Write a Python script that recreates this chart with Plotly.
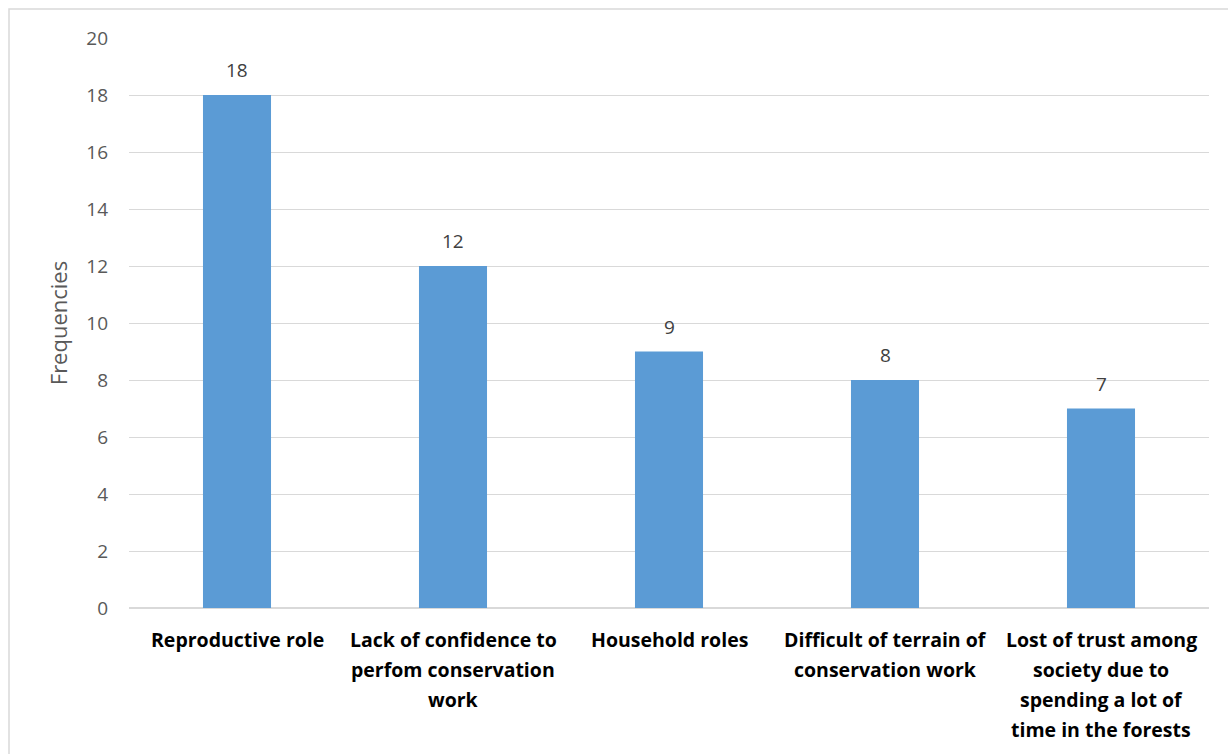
import plotly.graph_objects as go

categories = ["Reproductive role", "Lack of confidence to perfom conservation work",
              "Household roles", "Difficult of terrain of conservation work",
              "Lost of trust among society due to spending a lot of time in the forests"]
label_lines = [
    ["Reproductive role"],
    ["Lack of confidence to", "perfom conservation", "work"],
    ["Household roles"],
    ["Difficult of terrain of", "conservation work"],
    ["Lost of trust among", "society due to", "spending a lot of", "time in the forests"],
]
values = [18, 12, 9, 8, 7]
y_ticks = [0, 2, 4, 6, 8, 10, 12, 14, 16, 18, 20]

FONT = "Open Sans, Liberation Sans, sans-serif"

fig = go.Figure(go.Bar(x=categories, y=values, marker_color="#5b9bd5",
                       marker_line_width=0, width=0.315))

annotations = []
for c, v in zip(categories, values):
    annotations.append(dict(x=c, y=v, xref="x", yref="y", text=str(v), showarrow=False,
                            yanchor="middle", yshift=25,
                            font=dict(family=FONT, size=19, color="#404040")))
for c, lines in zip(categories, label_lines):
    for i, ln in enumerate(lines):
        annotations.append(dict(x=c, y=0, xref="x", yref="paper", text="<b>" + ln + "</b>",
                                showarrow=False, yanchor="middle", yshift=-31 - 30 * i,
                                font=dict(family=FONT, size=19.5, color="#000000")))

fig.update_layout(
    width=1228, height=754,
    margin=dict(l=129, r=19, t=38, b=146),
    paper_bgcolor="white", plot_bgcolor="white",
    showlegend=False,
    annotations=annotations,
    xaxis=dict(showticklabels=False, showgrid=False, zeroline=False, showline=False,
               range=[-0.5, 4.5]),
    yaxis=dict(range=[0, 20], tickvals=y_ticks, showgrid=True, gridcolor="#d9d9d9",
               gridwidth=1, zeroline=True, zerolinecolor="#d9d9d9", showline=False,
               ticklabelstandoff=20,
               tickfont=dict(family=FONT, size=19, color="#595959"),
               title=dict(text="Frequencies", standoff=12,
                          font=dict(family=FONT, size=22, color="#595959"))),
    shapes=[dict(type="rect", xref="paper", yref="paper",
                 x0=(9 - 129) / 1080, x1=(1240 - 129) / 1080,
                 y0=(608 - 770) / 570, y1=(608 - 9) / 570,
                 line=dict(color="#d9d9d9", width=1.5), fillcolor="rgba(0,0,0,0)",
                 layer="below")],
)

fig.write_html("out.html")
